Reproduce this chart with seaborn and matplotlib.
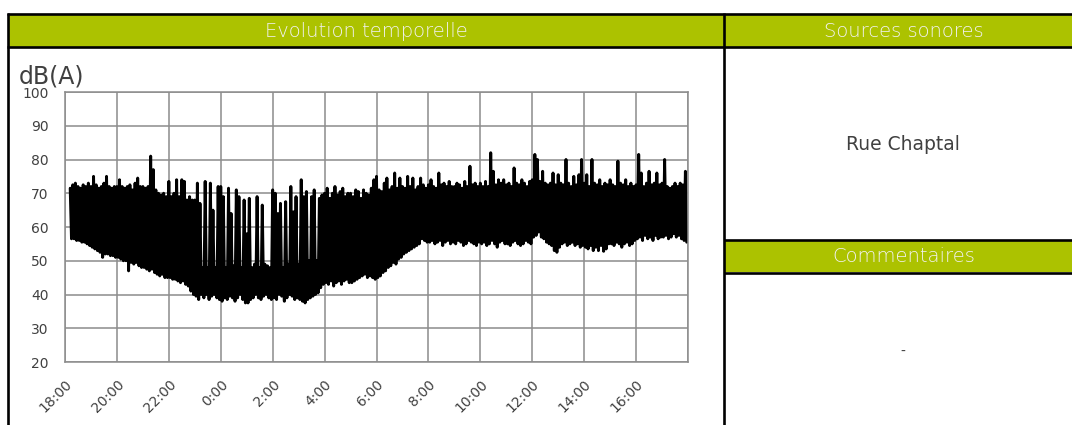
import numpy as np
import pandas as pd
import matplotlib
matplotlib.use("Agg")
import matplotlib.pyplot as plt
import seaborn as sns
from matplotlib.patches import Rectangle

# ---------------- data ----------------
# Noise level envelope per 6-minute block, starting 18:12 (hours after 18:00)
START_H = 0.2
STEP_H = 0.1
# upper value (peak) of each block, dB(A)
HI = [
    71.5, 72.5, 73, 72, 71.5, 72.5, 72, 73,                      # 18h
    72, 75, 72.5, 71.5, 72, 73, 75, 72, 71.5, 72,                # 19h
    72, 74, 72, 71.5, 72, 72.5, 71, 73, 74.5, 72,                # 20h
    72, 71.5, 72, 81, 77, 71, 70, 69.5, 70, 69,                  # 21h
    73.5, 69, 70, 74, 69, 74, 73.5, 68, 69, 68,                  # 22h
    68, 73, 67, 48, 73.5, 48, 73, 65, 48, 72,                    # 23h
    72, 69, 48, 71.5, 64, 48.5, 71, 69, 48, 68,                  # 0h
    58, 68.5, 48, 49, 69, 48, 66.5, 49, 48.5, 48,                # 1h
    71, 70, 64, 67, 48, 67.5, 49, 72, 64.5, 69,                  # 2h
    49, 74, 69, 70.5, 50, 69, 71, 50, 68.5, 69.5,                # 3h
    70, 71.5, 68.5, 70, 72, 69.5, 70.5, 71.5, 69, 70,            # 4h
    70, 69, 71, 70.5, 68.5, 71, 70, 69.5, 71.5, 74,              # 5h
    75, 71, 70.5, 73, 74.5, 71, 72, 76, 71.5, 74.5,              # 6h
    72, 71.5, 75, 72, 74.5, 71, 72, 74.5, 72.5, 71.5,            # 7h
    72.5, 74, 72, 71.5, 76, 72.5, 73, 72, 73.5, 72,              # 8h
    72, 73, 72.5, 71.5, 73.5, 72, 78, 72.5, 73, 72,              # 9h
    73, 72, 73.5, 72, 82, 76.5, 72.5, 74, 73, 74,                # 10h
    72.5, 73, 72, 77.5, 73, 72.5, 74, 73, 72, 73.5,              # 11h
    74, 81.5, 80, 73.5, 76.5, 73, 72.5, 73, 76, 72.5,            # 12h
    75.5, 73, 72.5, 80, 73, 72, 75, 72.5, 75.5, 80,              # 13h
    73, 75.5, 72, 80, 73, 72.5, 74, 72, 73, 72.5,                # 14h
    74, 72.5, 72, 79.5, 73, 72.5, 74, 72, 73, 72,                # 15h
    72.5, 81.5, 76, 72, 73, 76.5, 72.5, 73, 76, 72.5,            # 16h
    73, 80, 72, 71.5, 72, 73, 72, 73, 72.5, 76.5,                # 17h
]
# lower value (background) of each block, dB(A)
LO = [
    56.5, 56.5, 56, 56, 55.5, 55.5, 55, 54.5,                    # 18h
    54, 53.5, 53, 52.5, 51, 52, 52, 51.5, 51.5, 51,              # 19h
    51, 50.5, 50, 50, 47, 49.5, 49, 49.5, 48.5, 48,              # 20h
    48, 47.5, 47, 47.5, 46.5, 46, 45.5, 46, 45, 45,              # 21h
    45, 44.5, 44.5, 44, 43.5, 44, 43, 42.5, 41, 40,              # 22h
    39.5, 38.5, 40, 39, 40, 38.5, 39.5, 40, 39, 38.5,            # 23h
    38, 39, 38.5, 39.5, 39, 38, 39, 40, 38.5, 37.5,              # 0h
    37.5, 38.5, 39, 40, 39, 38.5, 39.5, 40, 39, 38.5,            # 1h
    39, 38.5, 40, 39.5, 38, 39, 40, 39.5, 38.5, 39,              # 2h
    38.5, 38, 37.5, 38.5, 39, 39.5, 40, 40.5, 42, 43,            # 3h
    43.5, 43, 44, 42.5, 43.5, 44, 43, 44, 44.5, 43.5,            # 4h
    43.5, 44, 44.5, 45, 45.5, 46, 45, 45.5, 45, 44.5,            # 5h
    45, 45.5, 46.5, 47, 48, 48.5, 49.5, 49, 50.5, 51,            # 6h
    52, 52.5, 53, 53.5, 54, 54.5, 55, 56.5, 56, 55.5,            # 7h
    55.5, 56, 55, 55.5, 56, 54.5, 55.5, 56, 55, 55.5,            # 8h
    55, 56, 55.5, 54.5, 55, 56, 55.5, 55, 54.5, 55.5,            # 9h
    55, 55.5, 54.5, 55, 56, 55, 54, 55.5, 56, 55,                # 10h
    55, 54.5, 55.5, 56, 55, 54.5, 55, 56, 55.5, 55,              # 11h
    57, 57.5, 58.5, 57, 56.5, 55.5, 55, 54.5, 53, 52.5,          # 12h
    54, 55, 55.5, 54.5, 55, 55.5, 54.5, 55, 54, 54.5,            # 13h
    54, 53.5, 54.5, 53, 54, 53, 54.5, 52.8, 53.5, 55,            # 14h
    55, 54.5, 55.5, 55, 54, 55, 55.5, 54.5, 55, 56,              # 15h
    56.5, 57, 56, 57.5, 56.5, 57, 56, 57.5, 56.5, 57,            # 16h
    57, 57.5, 56.5, 57, 58, 57, 57.5, 56.5, 56, 55.5,            # 17h
]

X_TICKS = list(range(0, 25, 2))
X_LABELS = ["18:00", "20:00", "22:00", "0:00", "2:00", "4:00", "6:00",
            "8:00", "10:00", "12:00", "14:00", "16:00", ""]
Y_TICKS = [20, 30, 40, 50, 60, 70, 80, 90, 100]
Y_UNIT = "dB(A)"
HEAD_LEFT = "Evolution temporelle"
HEAD_SRC = "Sources sonores"
HEAD_COM = "Commentaires"
SOURCE_TXT = "Rue Chaptal"
COMMENT_TXT = "-"

# ---------------- style ----------------
sns.set_theme(style="white")
plt.rcParams["font.family"] = ["DejaVu Sans"]

GREEN = "#ACC200"
GRID = "#8C8C8C"
TXT = "#404040"
W, H = 1072, 425

fig = plt.figure(figsize=(W / 100, H / 100), dpi=100)
fig.patch.set_facecolor("white")

bg = fig.add_axes([0, 0, 1, 1])
bg.set_xlim(0, W)
bg.set_ylim(H, 0)
bg.axis("off")

# header bands
bg.add_patch(Rectangle((8, 15), W - 8, 31.5, color=GREEN, lw=0))
bg.add_patch(Rectangle((724, 240.5), W - 724, 31.5, color=GREEN, lw=0))
# frame lines
seg = [((7, 14), (W, 14)), ((7, 47), (W, 47)),
       ((8, 13), (8, H)), ((724, 13), (724, H)),
       ((724, 240), (W, 240)), ((724, 272.5), (W, 272.5))]
for (x0, y0), (x1, y1) in seg:
    bg.plot([x0, x1], [y0, y1], color="black", lw=1.9, solid_capstyle="butt")

head_kw = dict(color="#F2F2F2", fontsize=14, fontweight="light",
               ha="center", va="center")
bg.text(366, 31, HEAD_LEFT, **head_kw)
bg.text(904, 31, HEAD_SRC, **head_kw)
bg.text(904, 256.5, HEAD_COM, **head_kw)
bg.text(903, 144, SOURCE_TXT, color=TXT, fontsize=13.5, ha="center", va="center")
bg.text(903, 352, COMMENT_TXT, color=TXT, fontsize=10, ha="center", va="center")
bg.text(19, 88, Y_UNIT, color=TXT, fontsize=17, ha="left", va="bottom")

# ---------------- chart ----------------
ax = fig.add_axes([65 / W, 1 - 362 / H, 623 / W, 270 / H])
t = START_H + STEP_H * np.arange(len(HI))
xs = np.empty(2 * len(HI))
ys = np.empty(2 * len(HI))
xs[0::2] = t
xs[1::2] = t + STEP_H / 2
ys[0::2] = HI
ys[1::2] = LO
df = pd.DataFrame({"t": xs, "db": ys})
sns.lineplot(data=df, x="t", y="db", sort=False, estimator=None,
             color="black", lw=2.1, ax=ax)

ax.set_xlim(0, 24)
ax.set_ylim(20, 100)
ax.set_xticks(X_TICKS)
ax.set_xticklabels(X_LABELS, rotation=45, ha="right", va="top",
                   rotation_mode="anchor")
ax.set_yticks(Y_TICKS)
ax.set_xlabel("")
ax.set_ylabel("")
ax.grid(True, color=GRID, lw=1.1)
ax.set_axisbelow(True)
for s in ax.spines.values():
    s.set_visible(True)
    s.set_color(GRID)
    s.set_linewidth(1.1)
ax.tick_params(axis="both", direction="out", length=4, width=1.1,
               color=GRID, labelcolor=TXT, labelsize=10)
ax.tick_params(axis="y", pad=8)
ax.tick_params(axis="x", pad=7)
ax.set_facecolor("white")

fig.savefig("out.png", dpi=100)
